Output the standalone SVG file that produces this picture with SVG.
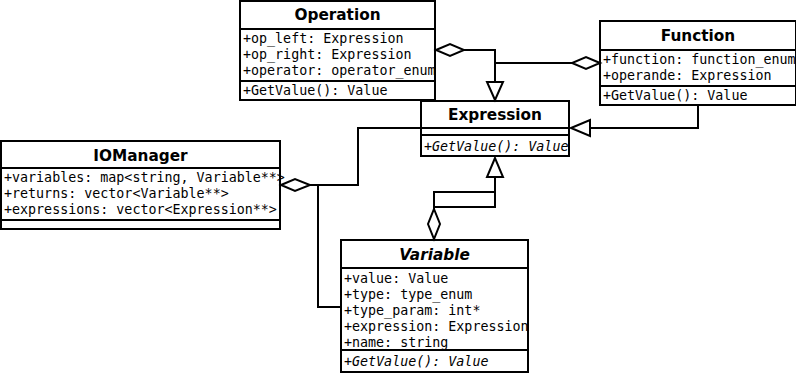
<svg xmlns="http://www.w3.org/2000/svg" width="796" height="374" viewBox="0 0 796 374">
  <style>
    .box { fill: #fff; stroke: #000; stroke-width: 2; }
    .sep { stroke: #000; stroke-width: 2; }
    .title { font-family: "DejaVu Sans", "Liberation Sans", sans-serif; font-weight: bold; font-size: 15.3px; text-anchor: middle; fill: #000; }
    .title.abstract { font-style: italic; }
    .member { font-family: "DejaVu Sans Mono", "Liberation Mono", monospace; font-size: 13.33px; fill: #000; }
    .member.abstract { font-style: italic; }
    .link { fill: none; stroke: #000; stroke-width: 2; }
    .head { fill: #fff; stroke: #000; stroke-width: 2; stroke-linejoin: miter; }
  </style>
  <rect width="796" height="374" fill="#fff"/>

  <g id="Operation">
    <rect class="box" x="240" y="1" width="195" height="99"/>
    <line class="sep" x1="240" y1="29" x2="435" y2="29"/>
    <line class="sep" x1="240" y1="81" x2="435" y2="81"/>
    <text class="title" x="337.5" y="20">Operation</text>
    <text class="member" x="243" y="43">+op_left: Expression</text>
    <text class="member" x="243" y="59">+op_right: Expression</text>
    <text class="member" x="243" y="75">+operator: operator_enum</text>
    <text class="member" x="243" y="95">+GetValue(): Value</text>
  </g>

  <g id="Function">
    <rect class="box" x="600" y="21" width="196" height="84"/>
    <line class="sep" x1="600" y1="50" x2="796" y2="50"/>
    <line class="sep" x1="600" y1="86" x2="796" y2="86"/>
    <text class="title" x="698" y="41">Function</text>
    <text class="member" x="603" y="64">+function: function_enum</text>
    <text class="member" x="603" y="80">+operande: Expression</text>
    <text class="member" x="603" y="100">+GetValue(): Value</text>
  </g>

  <g id="Expression">
    <rect class="box" x="421" y="101" width="148" height="55"/>
    <line class="sep" x1="421" y1="128" x2="569" y2="128"/>
    <line class="sep" x1="421" y1="135" x2="569" y2="135"/>
    <text class="title" x="495" y="120">Expression</text>
    <text class="member abstract" x="424" y="151">+GetValue(): Value</text>
  </g>

  <g id="IOManager">
    <rect class="box" x="1" y="141" width="279" height="88"/>
    <line class="sep" x1="1" y1="168" x2="280" y2="168"/>
    <line class="sep" x1="1" y1="220" x2="280" y2="220"/>
    <text class="title" x="140.5" y="161">IOManager</text>
    <text class="member" x="4" y="182">+variables: map&lt;string, Variable**&gt;</text>
    <text class="member" x="4" y="198">+returns: vector&lt;Variable**&gt;</text>
    <text class="member" x="4" y="214">+expressions: vector&lt;Expression**&gt;</text>
  </g>

  <g id="Variable">
    <rect class="box" x="341" y="240" width="187" height="132"/>
    <line class="sep" x1="341" y1="268" x2="528" y2="268"/>
    <line class="sep" x1="341" y1="350" x2="528" y2="350"/>
    <text class="title abstract" x="434.5" y="260">Variable</text>
    <text class="member" x="344" y="283">+value: Value</text>
    <text class="member" x="344" y="299">+type: type_enum</text>
    <text class="member" x="344" y="315">+type_param: int*</text>
    <text class="member" x="344" y="331">+expression: Expression</text>
    <text class="member" x="344" y="347">+name: string</text>
    <text class="member abstract" x="344" y="366">+GetValue(): Value</text>
  </g>

  <g id="connectors">
    <!-- Operation aggregates Expression -->
    <path class="link" d="M464,50 H495 V82"/>
    <polygon class="head" points="436,50 450,44 464,50 450,56"/>
    <polygon class="head" points="495,100 487,82 503,82"/>
    <!-- Function aggregates Expression -->
    <path class="link" d="M572,63 H495"/>
    <polygon class="head" points="600,63 586,57 572,63 586,69"/>
    <!-- Function generalises Expression -->
    <path class="link" d="M698,105 V128 H590"/>
    <polygon class="head" points="571,128 590,120 590,136"/>
    <!-- IOManager aggregates Expression and Variable -->
    <path class="link" d="M310,185 H358 V128 H421"/>
    <path class="link" d="M318,185 V307 H341"/>
    <polygon class="head" points="281,185 295,179 310,185 295,191"/>
    <!-- Variable aggregates / generalises Expression -->
    <path class="link" d="M495,177 V207 H434 V192 H495"/>
    <path class="link" d="M434,207 V209"/>
    <polygon class="head" points="434,209 440,224 434,239 428,224"/>
    <polygon class="head" points="495,158 487,177 503,177"/>
  </g>
</svg>
